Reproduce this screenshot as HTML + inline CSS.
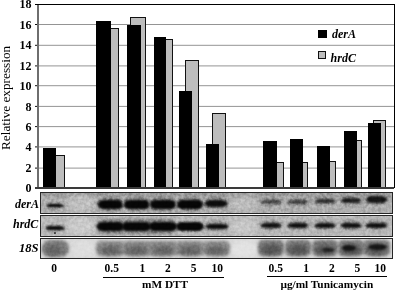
<!DOCTYPE html>
<html><head><meta charset="utf-8"><style>
html,body{margin:0;padding:0;background:#fff;}
body{width:395px;height:290px;position:relative;overflow:hidden;font-family:"Liberation Serif", serif;color:#000;}
.t{position:absolute;white-space:nowrap;line-height:1;}
.r{position:absolute;}
.p{position:absolute;overflow:hidden;}
.b{position:absolute;border-radius:50%;}
.nz{position:absolute;left:0;top:0;opacity:0.25;mix-blend-mode:overlay;}
</style></head><body>
<svg width="0" height="0" style="position:absolute"><filter id="nzf" color-interpolation-filters="sRGB" x="0" y="0" width="100%" height="100%"><feTurbulence type="fractalNoise" baseFrequency="0.32" numOctaves="2" seed="3"/><feColorMatrix type="matrix" values="1 0 0 0 0  1 0 0 0 0  1 0 0 0 0  0 0 0 0 1"/><feComponentTransfer><feFuncR type="linear" slope="2" intercept="-0.5"/><feFuncG type="linear" slope="2" intercept="-0.5"/><feFuncB type="linear" slope="2" intercept="-0.5"/></feComponentTransfer></filter></svg>
<div class="r" style="left:38.00px;top:167.00px;width:355.70px;height:1.00px;background:rgba(0,0,0,0.168)"></div>
<div class="r" style="left:38.00px;top:168.00px;width:355.70px;height:1.00px;background:rgba(0,0,0,0.252)"></div>
<div class="r" style="left:34.50px;top:167.00px;width:4.00px;height:1.00px;background:rgba(0,0,0,0.380)"></div>
<div class="r" style="left:34.50px;top:168.00px;width:4.00px;height:1.00px;background:rgba(0,0,0,0.570)"></div>
<div class="r" style="left:38.00px;top:146.00px;width:355.70px;height:1.00px;background:rgba(0,0,0,0.252)"></div>
<div class="r" style="left:38.00px;top:147.00px;width:355.70px;height:1.00px;background:rgba(0,0,0,0.168)"></div>
<div class="r" style="left:34.50px;top:146.00px;width:4.00px;height:1.00px;background:rgba(0,0,0,0.570)"></div>
<div class="r" style="left:34.50px;top:147.00px;width:4.00px;height:1.00px;background:rgba(0,0,0,0.380)"></div>
<div class="r" style="left:38.00px;top:126.00px;width:355.70px;height:1.00px;background:rgba(0,0,0,0.378)"></div>
<div class="r" style="left:38.00px;top:127.00px;width:355.70px;height:1.00px;background:rgba(0,0,0,0.042)"></div>
<div class="r" style="left:34.50px;top:126.00px;width:4.00px;height:1.00px;background:rgba(0,0,0,0.855)"></div>
<div class="r" style="left:34.50px;top:127.00px;width:4.00px;height:1.00px;background:rgba(0,0,0,0.095)"></div>
<div class="r" style="left:38.00px;top:105.00px;width:355.70px;height:1.00px;background:rgba(0,0,0,0.042)"></div>
<div class="r" style="left:38.00px;top:106.00px;width:355.70px;height:1.00px;background:rgba(0,0,0,0.378)"></div>
<div class="r" style="left:34.50px;top:105.00px;width:4.00px;height:1.00px;background:rgba(0,0,0,0.095)"></div>
<div class="r" style="left:34.50px;top:106.00px;width:4.00px;height:1.00px;background:rgba(0,0,0,0.855)"></div>
<div class="r" style="left:38.00px;top:85.00px;width:355.70px;height:1.00px;background:rgba(0,0,0,0.336)"></div>
<div class="r" style="left:38.00px;top:86.00px;width:355.70px;height:1.00px;background:rgba(0,0,0,0.084)"></div>
<div class="r" style="left:34.50px;top:85.00px;width:4.00px;height:1.00px;background:rgba(0,0,0,0.760)"></div>
<div class="r" style="left:34.50px;top:86.00px;width:4.00px;height:1.00px;background:rgba(0,0,0,0.190)"></div>
<div class="r" style="left:38.00px;top:65.00px;width:355.70px;height:1.00px;background:rgba(0,0,0,0.252)"></div>
<div class="r" style="left:38.00px;top:66.00px;width:355.70px;height:1.00px;background:rgba(0,0,0,0.168)"></div>
<div class="r" style="left:34.50px;top:65.00px;width:4.00px;height:1.00px;background:rgba(0,0,0,0.570)"></div>
<div class="r" style="left:34.50px;top:66.00px;width:4.00px;height:1.00px;background:rgba(0,0,0,0.380)"></div>
<div class="r" style="left:38.00px;top:44.00px;width:355.70px;height:1.00px;background:rgba(0,0,0,0.084)"></div>
<div class="r" style="left:38.00px;top:45.00px;width:355.70px;height:1.00px;background:rgba(0,0,0,0.336)"></div>
<div class="r" style="left:34.50px;top:44.00px;width:4.00px;height:1.00px;background:rgba(0,0,0,0.190)"></div>
<div class="r" style="left:34.50px;top:45.00px;width:4.00px;height:1.00px;background:rgba(0,0,0,0.760)"></div>
<div class="r" style="left:38.00px;top:24.00px;width:355.70px;height:1.00px;background:rgba(0,0,0,0.420)"></div>
<div class="r" style="left:34.50px;top:24.00px;width:4.00px;height:1.00px;background:rgba(0,0,0,0.950)"></div>
<div class="r" style="left:34.50px;top:3.90px;width:360.50px;height:1.30px;background:#000"></div>
<div class="r" style="left:393.70px;top:4.00px;width:1.30px;height:184.00px;background:#000"></div>
<div class="r" style="left:37.30px;top:4.50px;width:1.50px;height:184.00px;background:#6e6e6e"></div>
<div class="r" style="left:51.50px;top:155.10px;width:13.40px;height:32.40px;background:#bdbdbd;border:1.2px solid #111;border-bottom:none;box-sizing:border-box"></div>
<div class="r" style="left:43.00px;top:148.10px;width:12.80px;height:39.40px;background:#000"></div>
<div class="r" style="left:105.50px;top:27.80px;width:13.80px;height:159.70px;background:#bdbdbd;border:1.2px solid #111;border-bottom:none;box-sizing:border-box"></div>
<div class="r" style="left:96.30px;top:20.80px;width:15.10px;height:166.70px;background:#000"></div>
<div class="r" style="left:130.30px;top:17.00px;width:15.70px;height:170.50px;background:#bdbdbd;border:1.2px solid #111;border-bottom:none;box-sizing:border-box"></div>
<div class="r" style="left:126.70px;top:25.20px;width:14.40px;height:162.30px;background:#000"></div>
<div class="r" style="left:159.00px;top:39.30px;width:13.60px;height:148.20px;background:#bdbdbd;border:1.2px solid #111;border-bottom:none;box-sizing:border-box"></div>
<div class="r" style="left:153.60px;top:36.90px;width:12.80px;height:150.60px;background:#000"></div>
<div class="r" style="left:185.40px;top:60.40px;width:13.40px;height:127.10px;background:#bdbdbd;border:1.2px solid #111;border-bottom:none;box-sizing:border-box"></div>
<div class="r" style="left:178.90px;top:91.00px;width:12.90px;height:96.50px;background:#000"></div>
<div class="r" style="left:212.10px;top:113.10px;width:13.80px;height:74.40px;background:#bdbdbd;border:1.2px solid #111;border-bottom:none;box-sizing:border-box"></div>
<div class="r" style="left:205.60px;top:144.30px;width:13.00px;height:43.20px;background:#000"></div>
<div class="r" style="left:270.00px;top:162.40px;width:13.70px;height:25.10px;background:#bdbdbd;border:1.2px solid #111;border-bottom:none;box-sizing:border-box"></div>
<div class="r" style="left:263.00px;top:141.20px;width:13.60px;height:46.30px;background:#000"></div>
<div class="r" style="left:294.50px;top:162.00px;width:13.50px;height:25.50px;background:#bdbdbd;border:1.2px solid #111;border-bottom:none;box-sizing:border-box"></div>
<div class="r" style="left:290.20px;top:139.00px;width:12.70px;height:48.50px;background:#000"></div>
<div class="r" style="left:322.50px;top:161.30px;width:13.70px;height:26.20px;background:#bdbdbd;border:1.2px solid #111;border-bottom:none;box-sizing:border-box"></div>
<div class="r" style="left:316.90px;top:146.10px;width:13.00px;height:41.40px;background:#000"></div>
<div class="r" style="left:348.00px;top:139.80px;width:13.60px;height:47.70px;background:#bdbdbd;border:1.2px solid #111;border-bottom:none;box-sizing:border-box"></div>
<div class="r" style="left:343.70px;top:130.70px;width:13.20px;height:56.80px;background:#000"></div>
<div class="r" style="left:372.90px;top:119.70px;width:13.00px;height:67.80px;background:#bdbdbd;border:1.2px solid #111;border-bottom:none;box-sizing:border-box"></div>
<div class="r" style="left:367.90px;top:123.00px;width:13.30px;height:64.50px;background:#000"></div>
<div class="r" style="left:34.60px;top:186.80px;width:359.10px;height:2.00px;background:#3a3a3a"></div>
<div class="r" style="left:318.00px;top:30.20px;width:8.70px;height:8.20px;background:#000"></div>
<div class="r" style="left:318.00px;top:51.20px;width:8.30px;height:7.60px;background:#bdbdbd;border:1.2px solid #111;box-sizing:border-box"></div>
<div class="t" style="left:332.00px;top:27.65px;font-size:12px;font-weight:bold;font-style:italic;">derA</div>
<div class="t" style="left:330.60px;top:51.55px;font-size:12px;font-weight:bold;font-style:italic;">hrdC</div>
<div class="t" style="right:363.50px;top:181.75px;font-size:12px;font-weight:bold;font-style:normal;text-align:right;">0</div>
<div class="t" style="right:363.50px;top:162.25px;font-size:12px;font-weight:bold;font-style:normal;text-align:right;">2</div>
<div class="t" style="right:363.50px;top:141.05px;font-size:12px;font-weight:bold;font-style:normal;text-align:right;">4</div>
<div class="t" style="right:363.50px;top:120.75px;font-size:12px;font-weight:bold;font-style:normal;text-align:right;">6</div>
<div class="t" style="right:363.50px;top:100.55px;font-size:12px;font-weight:bold;font-style:normal;text-align:right;">8</div>
<div class="t" style="right:363.50px;top:79.85px;font-size:12px;font-weight:bold;font-style:normal;text-align:right;">10</div>
<div class="t" style="right:363.50px;top:60.05px;font-size:12px;font-weight:bold;font-style:normal;text-align:right;">12</div>
<div class="t" style="right:363.50px;top:39.45px;font-size:12px;font-weight:bold;font-style:normal;text-align:right;">14</div>
<div class="t" style="right:363.50px;top:18.65px;font-size:12px;font-weight:bold;font-style:normal;text-align:right;">16</div>
<div class="t" style="right:363.50px;top:-1.55px;font-size:12px;font-weight:bold;font-style:normal;text-align:right;">18</div>
<div class="t" style="left:-1.0px;top:150.4px;font-size:13.25px;font-weight:normal;transform-origin:0 0;transform:rotate(-90deg);line-height:1">Relative expression</div>
<div class="p" style="left:40.0px;top:192.0px;width:351.0px;height:19.6px;border:1.3px solid #262626;background:#adadad">
<div class="b" style="left:-1.3px;top:-1.3px;width:354.0px;height:5.0px;background:#999;filter:blur(1.5px);border-radius:0"></div>
<div class="b" style="left:24.7px;top:1.7px;width:30.0px;height:18.0px;background:#c0c0c0;filter:blur(3px);border-radius:50%"></div>
<div class="b" style="left:188.7px;top:1.7px;width:28.0px;height:18.0px;background:#bbbbbb;filter:blur(3px);border-radius:50%"></div>
<div class="b" style="left:4.6px;top:9.2px;width:18.6px;height:6.5px;background:#8e8e8e;filter:blur(1.5px);border-radius:50%"></div>
<div class="b" style="left:5.8px;top:10.5px;width:16.6px;height:3.8px;background:#000;filter:blur(0.85px);border-radius:4px/1.9px"></div>
<div class="b" style="left:56.0px;top:3.7px;width:26.5px;height:14.5px;background:#808080;filter:blur(1.8px);border-radius:50%"></div>
<div class="b" style="left:56.7px;top:7.1px;width:25.1px;height:9.2px;background:#060606;filter:blur(1.0px);border-radius:6px/4.6px"></div>
<div class="b" style="left:81.8px;top:3.7px;width:28.1px;height:14.5px;background:#808080;filter:blur(1.8px);border-radius:50%"></div>
<div class="b" style="left:82.5px;top:7.1px;width:26.7px;height:9.2px;background:#060606;filter:blur(1.0px);border-radius:6px/4.6px"></div>
<div class="b" style="left:108.3px;top:3.7px;width:27.4px;height:14.5px;background:#808080;filter:blur(1.8px);border-radius:50%"></div>
<div class="b" style="left:109.0px;top:7.1px;width:26.0px;height:9.2px;background:#060606;filter:blur(1.0px);border-radius:6px/4.6px"></div>
<div class="b" style="left:135.0px;top:3.7px;width:27.7px;height:14.5px;background:#808080;filter:blur(1.8px);border-radius:50%"></div>
<div class="b" style="left:135.7px;top:7.1px;width:26.3px;height:9.2px;background:#060606;filter:blur(1.0px);border-radius:6px/4.6px"></div>
<div class="b" style="left:162.6px;top:4.2px;width:25.1px;height:12.0px;background:#858585;filter:blur(1.8px);border-radius:50%"></div>
<div class="b" style="left:164.4px;top:6.9px;width:21.5px;height:6.8px;background:#0c0c0c;filter:blur(0.9px);border-radius:6px/3.4px"></div>
<div class="b" style="left:218.3px;top:4.3px;width:23.6px;height:8.4px;background:#939393;filter:blur(1.8px);border-radius:50%"></div>
<div class="b" style="left:219.8px;top:7.3px;width:20.6px;height:3.4px;background:#444;filter:blur(0.9px);border-radius:6px/1.7px"></div>
<div class="b" style="left:245.8px;top:4.3px;width:22.9px;height:8.4px;background:#939393;filter:blur(1.8px);border-radius:50%"></div>
<div class="b" style="left:247.3px;top:7.3px;width:19.9px;height:3.4px;background:#404040;filter:blur(0.9px);border-radius:6px/1.7px"></div>
<div class="b" style="left:272.3px;top:2.9px;width:22.9px;height:9.4px;background:#939393;filter:blur(1.8px);border-radius:50%"></div>
<div class="b" style="left:273.8px;top:5.9px;width:19.9px;height:4.4px;background:#2a2a2a;filter:blur(0.9px);border-radius:6px/2.2px"></div>
<div class="b" style="left:298.3px;top:1.9px;width:23.7px;height:10.4px;background:#939393;filter:blur(1.8px);border-radius:50%"></div>
<div class="b" style="left:299.8px;top:4.9px;width:20.7px;height:5.4px;background:#1e1e1e;filter:blur(0.9px);border-radius:6px/2.7px"></div>
<div class="b" style="left:323.9px;top:0.3px;width:23.6px;height:12.0px;background:#939393;filter:blur(1.8px);border-radius:50%"></div>
<div class="b" style="left:325.4px;top:3.3px;width:20.6px;height:7.0px;background:#141414;filter:blur(0.9px);border-radius:6px/3.5px"></div>
<svg class="nz" style="opacity:0.22" width="353.6" height="22.19999999999999"><rect width="100%" height="100%" filter="url(#nzf)"/></svg>
</div>
<div class="p" style="left:40.0px;top:215.2px;width:351.0px;height:19.4px;border:1.3px solid #262626;background:#b8b8b8">
<div class="b" style="left:24.7px;top:0.5px;width:30.0px;height:19.0px;background:#cbcbcb;filter:blur(3px);border-radius:50%"></div>
<div class="b" style="left:188.7px;top:0.5px;width:28.0px;height:19.0px;background:#c6c6c6;filter:blur(3px);border-radius:50%"></div>
<div class="b" style="left:4.1px;top:8.5px;width:19.6px;height:6.5px;background:#8e8e8e;filter:blur(1.5px);border-radius:50%"></div>
<div class="b" style="left:5.3px;top:10.1px;width:17.9px;height:3.3px;background:#0a0a0a;filter:blur(0.85px);border-radius:4px/1.65px"></div>
<div class="b" style="left:12.7px;top:15.5px;width:2.4px;height:2.0px;background:#444;filter:blur(0.6px);border-radius:50%"></div>
<div class="b" style="left:54.7px;top:3.0px;width:81.5px;height:15.0px;background:#808080;filter:blur(1.8px);border-radius:8px"></div>
<div class="b" style="left:55.5px;top:6.1px;width:27.5px;height:8.8px;background:#060606;filter:blur(1.0px);border-radius:6px/4.4px"></div>
<div class="b" style="left:81.3px;top:6.1px;width:29.1px;height:8.8px;background:#060606;filter:blur(1.0px);border-radius:6px/4.4px"></div>
<div class="b" style="left:107.8px;top:6.1px;width:28.4px;height:8.8px;background:#060606;filter:blur(1.0px);border-radius:6px/4.4px"></div>
<div class="b" style="left:134.5px;top:6.1px;width:28.7px;height:8.8px;background:#060606;filter:blur(1.0px);border-radius:6px/4.4px"></div>
<div class="b" style="left:163.1px;top:5.0px;width:25.1px;height:10.0px;background:#888888;filter:blur(1.6px);border-radius:50%"></div>
<div class="b" style="left:165.1px;top:7.8px;width:22.1px;height:5.0px;background:#0a0a0a;filter:blur(0.8px);border-radius:6px/2.5px"></div>
<div class="b" style="left:218.3px;top:4.0px;width:23.6px;height:9.5px;background:#939393;filter:blur(1.6px);border-radius:50%"></div>
<div class="b" style="left:219.8px;top:7.1px;width:20.6px;height:4.6px;background:#101010;filter:blur(0.9px);border-radius:6px/2.3px"></div>
<div class="b" style="left:245.8px;top:4.0px;width:22.9px;height:9.5px;background:#939393;filter:blur(1.6px);border-radius:50%"></div>
<div class="b" style="left:247.3px;top:7.1px;width:19.9px;height:4.6px;background:#101010;filter:blur(0.9px);border-radius:6px/2.3px"></div>
<div class="b" style="left:272.3px;top:4.0px;width:22.9px;height:9.5px;background:#939393;filter:blur(1.6px);border-radius:50%"></div>
<div class="b" style="left:273.8px;top:7.1px;width:19.9px;height:4.6px;background:#101010;filter:blur(0.9px);border-radius:6px/2.3px"></div>
<div class="b" style="left:298.3px;top:4.0px;width:23.7px;height:9.5px;background:#939393;filter:blur(1.6px);border-radius:50%"></div>
<div class="b" style="left:299.8px;top:7.1px;width:20.7px;height:4.6px;background:#101010;filter:blur(0.9px);border-radius:6px/2.3px"></div>
<div class="b" style="left:323.9px;top:4.0px;width:23.6px;height:9.5px;background:#939393;filter:blur(1.6px);border-radius:50%"></div>
<div class="b" style="left:325.4px;top:7.1px;width:20.6px;height:4.6px;background:#101010;filter:blur(0.9px);border-radius:6px/2.3px"></div>
<svg class="nz" style="opacity:0.2" width="353.6" height="22.0"><rect width="100%" height="100%" filter="url(#nzf)"/></svg>
</div>
<div class="p" style="left:40.0px;top:238.1px;width:351.0px;height:19.1px;border:1.3px solid #262626;background:#d8d8d8">
<div class="b" style="left:188.7px;top:0.6px;width:28.0px;height:18.0px;background:#e2e2e2;filter:blur(2.5px);border-radius:50%"></div>
<div class="b" style="left:30.7px;top:0.6px;width:23.0px;height:18.0px;background:#dedede;filter:blur(2.5px);border-radius:50%"></div>
<div class="b" style="left:1.3px;top:1.1px;width:27.0px;height:16.5px;background:#7e7e7e;filter:blur(1.8px);border-radius:8px"></div>
<div class="b" style="left:2.7px;top:5.6px;width:19.0px;height:10.0px;background:#606060;filter:blur(2.5px);border-radius:50%"></div>
<div class="b" style="left:55.0px;top:1.9px;width:28.5px;height:15.5px;background:#888;filter:blur(1.6px);border-radius:5px"></div>
<div class="b" style="left:58.5px;top:6.6px;width:21.5px;height:9.5px;background:#626262;filter:blur(2.2px);border-radius:50%"></div>
<div class="b" style="left:80.8px;top:1.9px;width:30.1px;height:15.5px;background:#888;filter:blur(1.6px);border-radius:5px"></div>
<div class="b" style="left:84.3px;top:6.6px;width:23.1px;height:9.5px;background:#626262;filter:blur(2.2px);border-radius:50%"></div>
<div class="b" style="left:107.3px;top:1.9px;width:29.4px;height:15.5px;background:#888;filter:blur(1.6px);border-radius:5px"></div>
<div class="b" style="left:110.8px;top:6.6px;width:22.4px;height:9.5px;background:#626262;filter:blur(2.2px);border-radius:50%"></div>
<div class="b" style="left:134.0px;top:1.9px;width:29.7px;height:15.5px;background:#888;filter:blur(1.6px);border-radius:5px"></div>
<div class="b" style="left:137.5px;top:6.6px;width:22.7px;height:9.5px;background:#626262;filter:blur(2.2px);border-radius:50%"></div>
<div class="b" style="left:161.6px;top:1.9px;width:27.1px;height:15.5px;background:#888;filter:blur(1.6px);border-radius:5px"></div>
<div class="b" style="left:165.1px;top:6.6px;width:20.1px;height:9.5px;background:#626262;filter:blur(2.2px);border-radius:50%"></div>
<div class="b" style="left:216.8px;top:1.1px;width:26.6px;height:16.3px;background:#767676;filter:blur(1.6px);border-radius:5px"></div>
<div class="b" style="left:220.3px;top:5.6px;width:19.6px;height:10.5px;background:#525252;filter:blur(2.2px);border-radius:50%"></div>
<div class="b" style="left:244.3px;top:1.1px;width:25.9px;height:16.3px;background:#767676;filter:blur(1.6px);border-radius:5px"></div>
<div class="b" style="left:247.8px;top:5.6px;width:18.9px;height:10.5px;background:#525252;filter:blur(2.2px);border-radius:50%"></div>
<div class="b" style="left:270.8px;top:1.1px;width:25.9px;height:16.3px;background:#767676;filter:blur(1.6px);border-radius:5px"></div>
<div class="b" style="left:274.3px;top:5.6px;width:18.9px;height:10.5px;background:#525252;filter:blur(2.2px);border-radius:50%"></div>
<div class="b" style="left:296.8px;top:1.1px;width:26.7px;height:16.3px;background:#767676;filter:blur(1.6px);border-radius:5px"></div>
<div class="b" style="left:300.3px;top:5.6px;width:19.7px;height:10.5px;background:#525252;filter:blur(2.2px);border-radius:50%"></div>
<div class="b" style="left:322.4px;top:1.1px;width:26.6px;height:16.3px;background:#767676;filter:blur(1.6px);border-radius:5px"></div>
<div class="b" style="left:325.9px;top:5.6px;width:19.6px;height:10.5px;background:#525252;filter:blur(2.2px);border-radius:50%"></div>
<div class="b" style="left:280.7px;top:9.2px;width:12.0px;height:3.8px;background:#1e1e1e;filter:blur(1.0px);border-radius:50%"></div>
<div class="b" style="left:301.0px;top:5.8px;width:14.0px;height:5.8px;background:#141414;filter:blur(1.0px);border-radius:50%"></div>
<div class="b" style="left:326.8px;top:5.2px;width:18.9px;height:6.0px;background:#141414;filter:blur(1.0px);border-radius:50%"></div>
<svg class="nz" style="opacity:0.09" width="353.6" height="21.700000000000017"><rect width="100%" height="100%" filter="url(#nzf)"/></svg>
</div>
<div class="t" style="left:15.00px;top:198.35px;font-size:12px;font-weight:bold;font-style:italic;">derA</div>
<div class="t" style="left:13.00px;top:218.45px;font-size:12px;font-weight:bold;font-style:italic;">hrdC</div>
<div class="t" style="left:18.90px;top:242.45px;font-size:12.6px;font-weight:bold;font-style:italic;">18S</div>
<div class="t" style="left:51.20px;top:262.57px;font-size:11.5px;font-weight:bold;font-style:normal;">0</div>
<div class="t" style="left:104.60px;top:262.57px;font-size:11.5px;font-weight:bold;font-style:normal;">0.5</div>
<div class="t" style="left:139.50px;top:262.57px;font-size:11.5px;font-weight:bold;font-style:normal;">1</div>
<div class="t" style="left:165.10px;top:262.57px;font-size:11.5px;font-weight:bold;font-style:normal;">2</div>
<div class="t" style="left:190.80px;top:262.57px;font-size:11.5px;font-weight:bold;font-style:normal;">5</div>
<div class="t" style="left:211.40px;top:262.57px;font-size:11.5px;font-weight:bold;font-style:normal;">10</div>
<div class="t" style="left:268.50px;top:262.57px;font-size:11.5px;font-weight:bold;font-style:normal;">0.5</div>
<div class="t" style="left:303.20px;top:262.57px;font-size:11.5px;font-weight:bold;font-style:normal;">1</div>
<div class="t" style="left:328.90px;top:262.57px;font-size:11.5px;font-weight:bold;font-style:normal;">2</div>
<div class="t" style="left:354.40px;top:262.57px;font-size:11.5px;font-weight:bold;font-style:normal;">5</div>
<div class="t" style="left:374.50px;top:262.57px;font-size:11.5px;font-weight:bold;font-style:normal;">10</div>
<div class="r" style="left:102.90px;top:276.50px;width:120.70px;height:1.20px;background:#000"></div>
<div class="r" style="left:266.80px;top:276.10px;width:120.60px;height:1.20px;background:#000"></div>
<div class="t" style="left:142.00px;top:279.14px;font-size:11.3px;font-weight:bold;font-style:normal;">mM DTT</div>
<div class="t" style="left:280.40px;top:279.14px;font-size:11.3px;font-weight:bold;font-style:normal;">&micro;g/ml Tunicamycin</div>
</body></html>
